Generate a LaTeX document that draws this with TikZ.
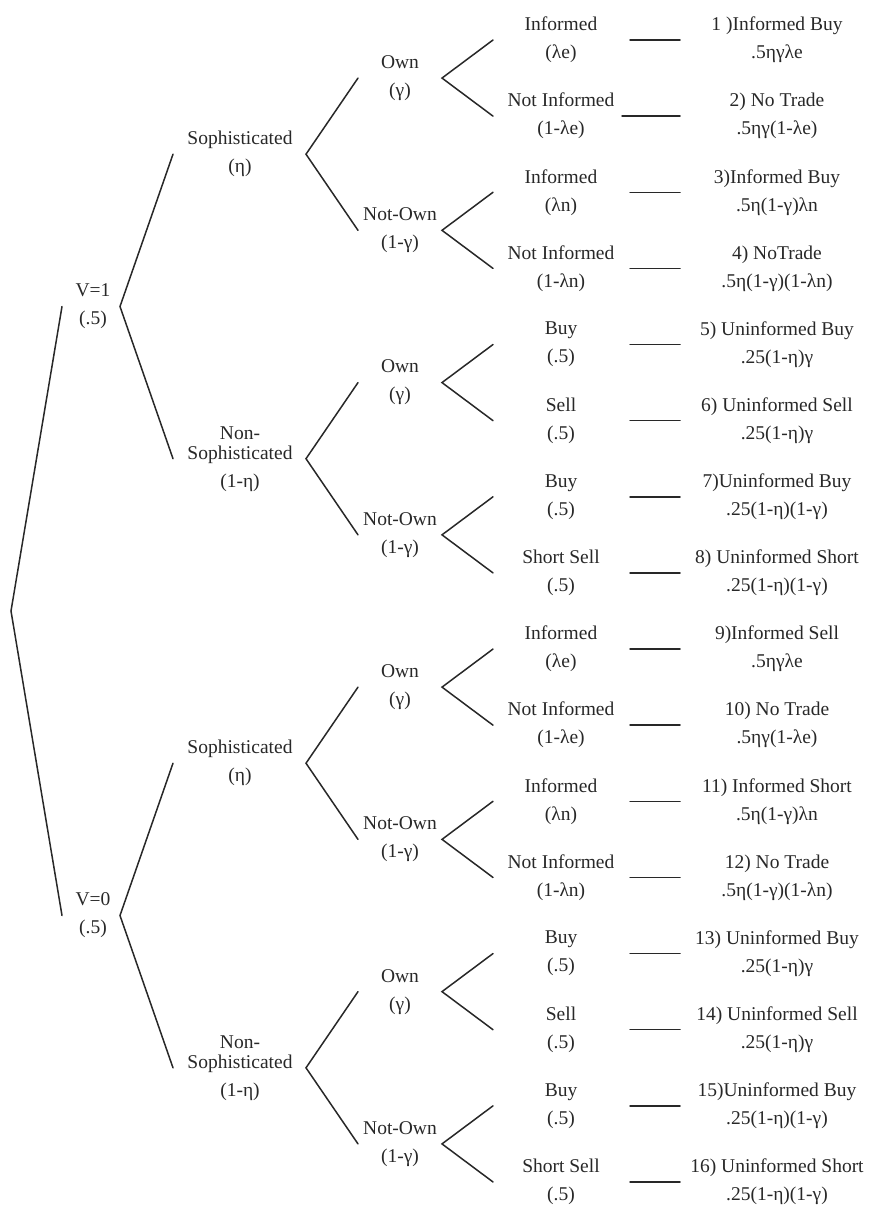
\documentclass[tikz,border=0pt]{standalone}
\usepackage{fontspec}
\setmainfont{Liberation Serif}
\definecolor{ink}{RGB}{40,40,40}
\newcommand\leafrow[6]{%
  \pgfmathsetmacro\yy{40+(#1-1)*76.13}%
  \node[lbl] (m#1) at (561,\yy) {#2\\#3};
  \node[lbl] (r#1) at (777,\yy) {#4\\#5};
  \coordinate (da#1) at (#6,\yy);
  \coordinate (db#1) at (680,\yy);
  \draw[br] (da#1) -- (db#1);
}
\newcommand\forkat[6]{%
  \coordinate (#1) at (#2,#3);
  \coordinate (#1-u) at (#4,#5);
  \coordinate (#1-d) at (#4,#6);
  \draw[br] (#1-u) -- (#1) -- (#1-d);
}
\begin{document}
\begin{tikzpicture}[x=1pt,y=-1pt,
  br/.style={draw=ink, line width=1.5pt, line cap=round, line join=miter},
  lbl/.style={text=ink, align=center, font=\fontsize{19.5}{28}\selectfont, inner sep=0pt}]
\useasboundingbox (0,0) rectangle (868,1210);

% root and level-1 forks
\forkat{root}{11}{611}{62}{306.5}{915.5}
\forkat{v1}{120}{306.5}{173}{154.2}{458.7}
\forkat{v0}{120}{915.5}{173}{763.2}{1067.8}
\node[lbl] (lv1) at (93,306.5) {V=1\\(.5)};
\node[lbl] (lv0) at (93,915.5) {V=0\\(.5)};

% level-2 forks
\forkat{s1}{306}{154.2}{358}{78.07}{230.33}
\forkat{n1}{306}{458.7}{358}{382.59}{534.85}
\forkat{s0}{306}{763.2}{358}{687.11}{839.37}
\forkat{n0}{306}{1067.8}{358}{991.63}{1143.89}
\node[lbl] (ls1) at (240,154.2) {Sophisticated\\(η)};
\node[lbl] (ln1) at (240,458.7) {Non-\\[-8pt]Sophisticated\\(1-η)};
\node[lbl] (ls0) at (240,763.2) {Sophisticated\\(η)};
\node[lbl] (ln0) at (240,1067.8) {Non-\\[-8pt]Sophisticated\\(1-η)};

% level-3 forks
\forkat{o1}{442}{78.07}{493}{40}{116.13}
\forkat{p1}{442}{230.33}{493}{192.26}{268.39}
\forkat{o2}{442}{382.59}{493}{344.52}{420.65}
\forkat{p2}{442}{534.85}{493}{496.78}{572.91}
\forkat{o3}{442}{687.11}{493}{649.04}{725.17}
\forkat{p3}{442}{839.37}{493}{801.30}{877.43}
\forkat{o4}{442}{991.63}{493}{953.56}{1029.69}
\forkat{p4}{442}{1143.89}{493}{1105.82}{1181.95}
\node[lbl] (lo1) at (400,78.07) {Own\\(γ)};
\node[lbl] (lp1) at (400,230.33) {Not-Own\\(1-γ)};
\node[lbl] (lo2) at (400,382.59) {Own\\(γ)};
\node[lbl] (lp2) at (400,534.85) {Not-Own\\(1-γ)};
\node[lbl] (lo3) at (400,687.11) {Own\\(γ)};
\node[lbl] (lp3) at (400,839.37) {Not-Own\\(1-γ)};
\node[lbl] (lo4) at (400,991.63) {Own\\(γ)};
\node[lbl] (lp4) at (400,1143.89) {Not-Own\\(1-γ)};

% leaves
\leafrow{1}{Informed}{(λe)}{1 )Informed Buy}{.5ηγλe}{630}
\leafrow{2}{Not Informed}{(1-λe)}{2) No Trade}{.5ηγ(1-λe)}{622}
\leafrow{3}{Informed}{(λn)}{3)Informed Buy}{.5η(1-γ)λn}{630}
\leafrow{4}{Not Informed}{(1-λn)}{4) NoTrade}{.5η(1-γ)(1-λn)}{630}
\leafrow{5}{Buy}{(.5)}{5) Uninformed Buy}{.25(1-η)γ}{630}
\leafrow{6}{Sell}{(.5)}{6) Uninformed Sell}{.25(1-η)γ}{630}
\leafrow{7}{Buy}{(.5)}{7)Uninformed Buy}{.25(1-η)(1-γ)}{630}
\leafrow{8}{Short Sell}{(.5)}{8) Uninformed Short}{.25(1-η)(1-γ)}{630}
\leafrow{9}{Informed}{(λe)}{9)Informed Sell}{.5ηγλe}{630}
\leafrow{10}{Not Informed}{(1-λe)}{10) No Trade}{.5ηγ(1-λe)}{630}
\leafrow{11}{Informed}{(λn)}{11) Informed Short}{.5η(1-γ)λn}{630}
\leafrow{12}{Not Informed}{(1-λn)}{12) No Trade}{.5η(1-γ)(1-λn)}{630}
\leafrow{13}{Buy}{(.5)}{13) Uninformed Buy}{.25(1-η)γ}{630}
\leafrow{14}{Sell}{(.5)}{14) Uninformed Sell}{.25(1-η)γ}{630}
\leafrow{15}{Buy}{(.5)}{15)Uninformed Buy}{.25(1-η)(1-γ)}{630}
\leafrow{16}{Short Sell}{(.5)}{16) Uninformed Short}{.25(1-η)(1-γ)}{630}
\end{tikzpicture}
\end{document}
